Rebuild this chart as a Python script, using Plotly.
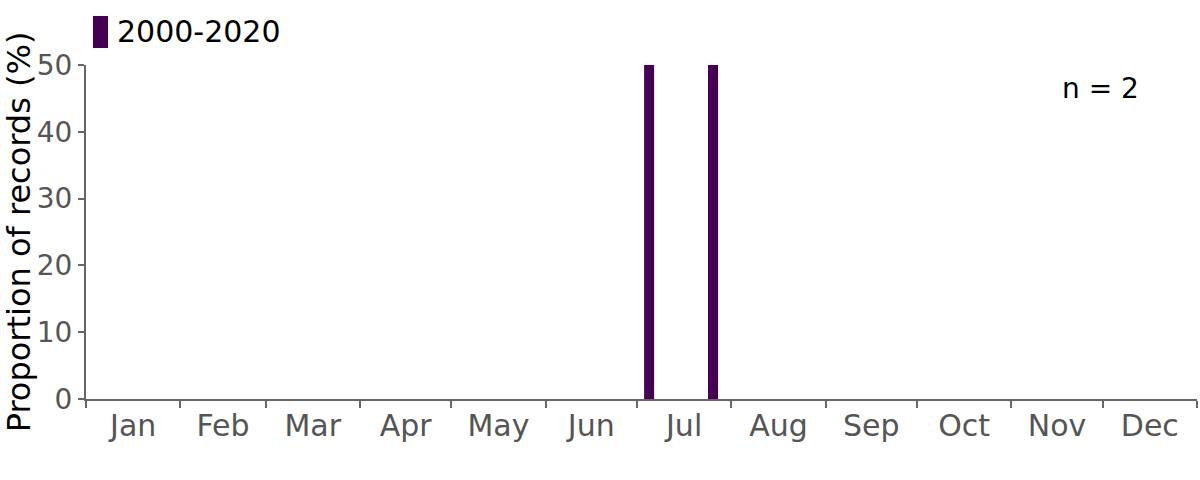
import plotly.graph_objects as go

# Data
period_label = "2000-2020"
record_dates = ["2001-07-05", "2001-07-26"]
proportions = [50, 50]
n_records = 2
y_ticks = [0, 10, 20, 30, 40, 50]

BAR_COLOR = "#440154"
AXIS_COLOR = "#666666"
FONT = "DejaVu Sans, sans-serif"
X_TICK_FONT = dict(family=FONT, size=30, color="#555555")
Y_TICK_FONT = dict(family=FONT, size=28, color="#555555")
DAY_MS = 86400000

fig = go.Figure()
fig.add_trace(go.Bar(
    x=record_dates, y=proportions, name=period_label,
    marker=dict(color=BAR_COLOR, line=dict(width=0)),
    width=[3.3 * DAY_MS] * len(record_dates),
    showlegend=False,
))

fig.update_layout(
    width=1200, height=480,
    margin=dict(l=86, r=3, t=65, b=81, autoexpand=False),
    plot_bgcolor="white", paper_bgcolor="white",
    font=dict(family=FONT),
    xaxis=dict(
        type="date", range=["2001-01-01", "2002-01-01"],
        tick0="2001-01-01", dtick="M1", tickformat="%b",
        ticklabelmode="period", ticklabelstandoff=-8,
        ticks="outside", ticklen=7, tickwidth=2, tickcolor=AXIS_COLOR,
        showline=True, linecolor=AXIS_COLOR, linewidth=2,
        showgrid=False, zeroline=False, tickfont=X_TICK_FONT,
        fixedrange=True,
    ),
    yaxis=dict(
        range=[0, 50], tickmode="array", tickvals=y_ticks,
        ticks="outside", ticklen=6, tickwidth=2, tickcolor=AXIS_COLOR,
        showline=True, linecolor=AXIS_COLOR, linewidth=2,
        showgrid=False, zeroline=False, tickfont=Y_TICK_FONT,
        title=dict(text="Proportion of records (%)",
                   font=dict(family=FONT, size=32, color="black"),
                   standoff=8),
        fixedrange=True,
    ),
    shapes=[dict(type="rect", xref="paper", yref="paper",
                 x0=0.0063, x1=0.0198, y0=1.0509, y1=1.1467,
                 fillcolor=BAR_COLOR, line=dict(width=0))],
    annotations=[
        dict(text=period_label, xref="paper", yref="paper", x=0.026, y=1.099,
             xanchor="left", yanchor="middle", showarrow=False,
             font=dict(family=FONT, size=30, color="black")),
        dict(text=f"n = {n_records}", xref="paper", yref="paper", x=0.913, y=0.931,
             xanchor="center", yanchor="middle", showarrow=False,
             font=dict(family=FONT, size=28, color="black")),
    ],
)

fig.write_html("out.html", config={"displayModeBar": False},
               post_script="document.body.style.margin='0';")
